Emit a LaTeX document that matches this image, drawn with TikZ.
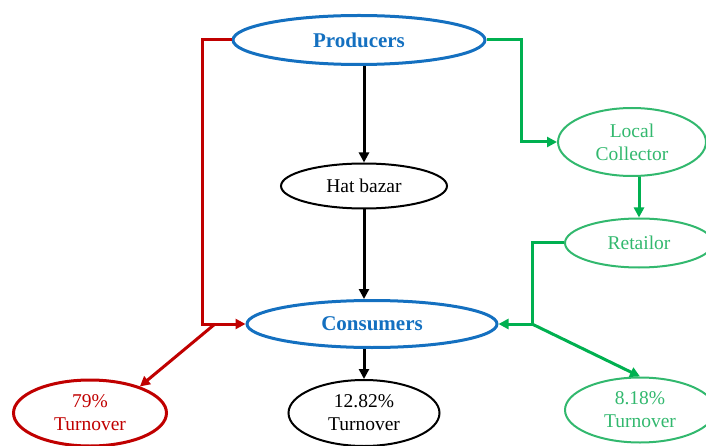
\documentclass[tikz,border=0pt]{standalone}
\usepackage{fontspec}
\setmainfont{Liberation Serif}
\usetikzlibrary{shapes.geometric,arrows.meta,calc}
\definecolor{cblue}{RGB}{20,112,192}
\definecolor{cred}{RGB}{192,0,0}
\definecolor{cgreen}{RGB}{0,176,80}
\definecolor{lgreen}{RGB}{50,184,110}
\tikzset{
  x=1pt, y=-1pt,
  ell/.style={ellipse, inner sep=0pt, align=center, font=\fontsize{19.5}{23}\selectfont},
  bigell/.style={ell, draw=cblue, line width=3pt, text=cblue, font=\fontsize{21}{25}\selectfont\bfseries},
  blackell/.style={ell, draw=black, line width=2pt, text=black},
  greenell/.style={ell, draw=lgreen, line width=2pt, text=lgreen},
  redell/.style={ell, draw=cred, line width=3pt, text=cred},
  conn/.style={line width=3pt, -{Triangle[length=10pt,width=10pt]}},
  rconn/.style={conn, draw=cred},
  gconn/.style={conn, draw=cgreen},
  kconn/.style={conn, draw=black},
}
\begin{document}
\begin{tikzpicture}
\useasboundingbox (0,0) rectangle (706,446);
\node[bigell, minimum width=252pt, minimum height=49pt] (prod) at (359,40) {Producers};
\node[blackell, minimum width=166pt, minimum height=45pt] (hat) at (364,186) {Hat bazar};
\node[greenell, minimum width=148pt, minimum height=68pt] (lc) at (632,142) {Local\\Collector};
\node[greenell, minimum width=148pt, minimum height=49pt] (ret) at (639,243) {Retailor};
\node[bigell, minimum width=250pt, minimum height=47pt] (cons) at (372,324) {Consumers};
\node[redell, minimum width=153pt, minimum height=66pt] (t79) at (90,413) {79\%\\Turnover};
\node[blackell, minimum width=151pt, minimum height=66pt] (t1282) at (364,413) {12.82\%\\Turnover};
\node[greenell, minimum width=150pt, minimum height=65pt] (t818) at (640,410) {8.18\%\\Turnover};

\coordinate (rl) at (202,324);
\coordinate (rd) at (215,324);
\coordinate (gl) at (521,142);
\coordinate (gr) at (532,324);

% red
\draw[rconn] (prod.west) -| (rl) -- (cons.west);
\draw[rconn] (rd) -- (t79.28);
% black
\draw[kconn] (prod.south -| hat.north) -- (hat.north);
\draw[kconn] (hat.south) -- (cons.north -| hat.south);
\draw[kconn] (cons.south -| t1282.north) -- (t1282.north);
% green
\draw[gconn] (prod.east) -| (gl) -- (lc.west);
\draw[gconn] (lc.south -| ret.north) -- (ret.north);
\draw[gconn] (ret.west) -| (gr) -- (cons.east);
\draw[gconn] (gr) -- (t818.north);
\end{tikzpicture}
\end{document}
